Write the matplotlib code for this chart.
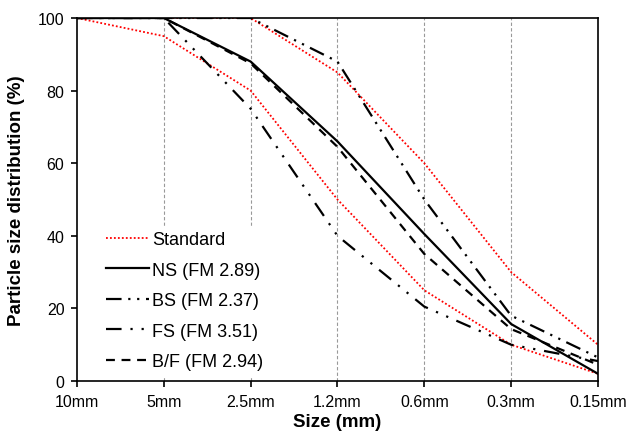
import matplotlib as mpl
mpl.use('Agg')
import matplotlib.pyplot as plt

plt.rcParams['font.family'] = ['Liberation Sans', 'DejaVu Sans']

sizes = ['10mm', '5mm', '2.5mm', '1.2mm', '0.6mm', '0.3mm', '0.15mm']
std_upper = [100, 100, 100, 85, 60, 30, 10]
std_lower = [100, 95, 80, 50, 25, 10, 2]
ns = [100, 100, 88, 66, 40.5, 15.7, 2]
bs = [100, 100, 100, 88, 50, 18, 6.5]
fs = [100, 100, 75, 40, 20.5, 10, 5.5]
bf = [100, 100, 87.5, 64.5, 35, 14.3, 4.5]

x = list(range(len(sizes)))

fig = plt.figure(figsize=(6.27, 4.39), dpi=100)
ax = fig.add_axes([0.1228, 0.1298, 0.8309, 0.8269])

# vertical dashed guides
for xi in x[1:-1]:
    ax.axvline(xi, color='#999999', lw=0.8, ls=(0, (3, 2)), zorder=0)

ax.plot(x, std_upper, color='red', lw=1.3, ls=(0, (1, 1.2)), label='Standard')
ax.plot(x, std_lower, color='red', lw=1.3, ls=(0, (1, 1.2)))
ax.plot(x, ns, color='black', lw=1.6, label='NS (FM 2.89)')
ax.plot(x, bs, color='black', lw=1.6, ls=(0, (7, 3, 1, 3, 1, 3)), label='BS (FM 2.37)')
ax.plot(x, fs, color='black', lw=1.6, ls=(0, (7, 4, 1, 4, 1, 4)), label='FS (FM 3.51)')
ax.plot(x, bf, color='black', lw=1.6, ls=(0, (4, 3)), label='B/F (FM 2.94)')

ax.set_xlim(0, 6)
ax.set_ylim(0, 100)
ax.set_xticks(x)
ax.set_xticklabels(sizes, fontsize=11.5)
ax.set_yticks(range(0, 101, 20))
ax.tick_params(axis='y', labelsize=11.5, direction='out', length=4, width=1.2, pad=5)
ax.tick_params(axis='x', direction='out', length=4, width=1.2, pad=5)
for s in ax.spines.values():
    s.set_linewidth(1.2)

ax.set_xlabel('Size (mm)', fontsize=13.5, fontweight='bold', labelpad=3)
ax.set_ylabel('Particle size distribution (%)', fontsize=13.5, fontweight='bold', labelpad=9)

leg = ax.legend(loc='lower left', bbox_to_anchor=(0.035, 0.0), frameon=True,
                fontsize=13, handlelength=2.4, handletextpad=0.15, labelspacing=0.75,
                borderaxespad=0.3, borderpad=0.3)
leg.get_frame().set_edgecolor('white')
leg.get_frame().set_facecolor('white')
leg.get_frame().set_alpha(1)

plt.savefig('out.png', dpi=100)
